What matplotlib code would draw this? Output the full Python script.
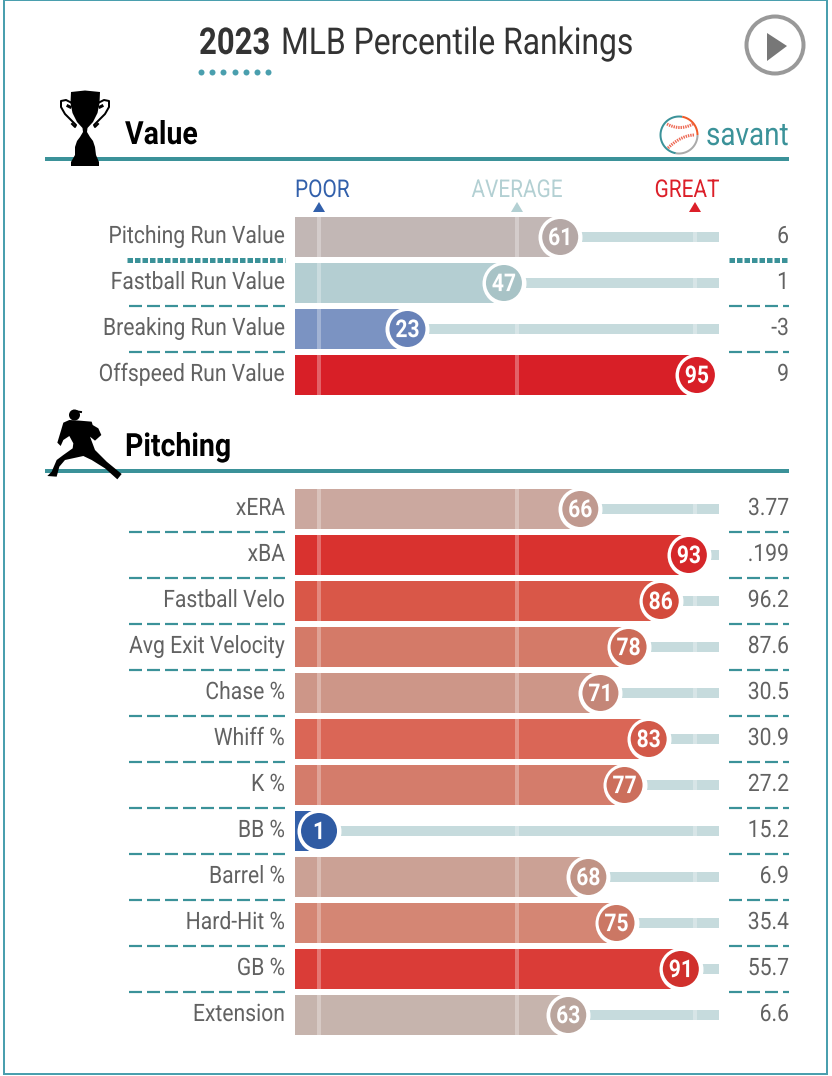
import numpy as np
import matplotlib
matplotlib.use("Agg")
import matplotlib.pyplot as plt
from matplotlib.patches import Rectangle, Circle, Polygon
from matplotlib.patheffects import AbstractPathEffect
from matplotlib.transforms import Affine2D

plt.rcParams['font.family'] = ['Roboto', 'DejaVu Sans']
plt.rcParams['lines.scale_dashes'] = False

value_labels = ["Pitching Run Value", "Fastball Run Value", "Breaking Run Value", "Offspeed Run Value"]
value_pcts = [61, 47, 23, 95]
value_stats = ["6", "1", "-3", "9"]
value_bar_colors = ["#c2b7b5", "#b4ced2", "#7b93c2", "#d81f27"]
value_dot_colors = ["#b5a8a6", "#a8c3c6", "#6882b8", "#d81f27"]

pitch_labels = ["xERA", "xBA", "Fastball Velo", "Avg Exit Velocity", "Chase %", "Whiff %",
                "K %", "BB %", "Barrel %", "Hard-Hit %", "GB %", "Extension"]
pitch_pcts = [66, 93, 86, 78, 71, 83, 77, 1, 68, 75, 91, 63]
pitch_stats = ["3.77", ".199", "96.2", "87.6", "30.5", "30.9", "27.2", "15.2", "6.9", "35.4", "55.7", "6.6"]
pitch_bar_colors = ["#cba89f", "#d9322f", "#d95748", "#d47a68", "#cd9688", "#da6656",
                    "#d47c6b", "#3360a9", "#cba195", "#d48674", "#da3c37", "#c6b4ad"]
pitch_dot_colors = ["#c09a90", "#d5272a", "#d34a3c", "#cc6b58", "#c48678", "#d25949",
                    "#cc6f5c", "#2f5ba3", "#c09385", "#cb7764", "#d0302c", "#baa59d"]

TEAL = "#3b9299"
BORDER = "#4a9fae"
TEXT = "#626262"
TRACK = "#c6dbdd"
W, H = 832, 1076
PX = 72 / 100  # points per pixel at dpi 100


class Squeeze(AbstractPathEffect):
    def __init__(self, k, anchor):
        super().__init__()
        self.k, self.anchor = k, anchor

    def draw_path(self, renderer, gc, tpath, affine, rgbFace=None):
        a = affine + Affine2D().translate(-self.anchor, 0).scale(self.k, 1).translate(self.anchor, 0)
        renderer.draw_path(gc, tpath, a, rgbFace)


fig = plt.figure(figsize=(W / 100, H / 100), dpi=100, facecolor="white")


def axes_px(left, top, right, bottom, **kw):
    return fig.add_axes([left / W, 1 - bottom / H, (right - left) / W, (bottom - top) / H], **kw)


ov = axes_px(0, 0, W, H, zorder=3)
ov.set_xlim(0, W)
ov.set_ylim(H, 0)
ov.axis("off")
ov.patch.set_alpha(0)


def ctext(ax, x, y, s, size_px, k, color=TEXT, ha="left", weight="normal", zorder=6, va="baseline"):
    trans = ax.transData
    anchor = trans.transform((x, y))[0]
    t = ax.text(x, y, s, fontsize=size_px * PX, color=color, ha=ha, va=va, fontweight=weight,
                transform=trans, zorder=zorder, clip_on=False)
    t.set_path_effects([Squeeze(k, anchor)])
    return t


# outer frame
ov.add_patch(Rectangle((3.5, 0), 823, 1073.5, fill=False, ec=BORDER, lw=2 * PX))

# title
ctext(ov, 199, 54, "2023", 37, 0.84, color="#333333", weight="bold")
ctext(ov, 281, 54, "MLB Percentile Rankings", 37, 0.86, color="#333333")
ov.plot(201 + 11.17 * np.arange(7), [72] * 7, "o", ms=6 * PX, color=BORDER, mew=0)

# play button
ov.add_patch(Circle((775, 45), 28.5, fc="white", ec="#999999", lw=4 * PX))
ov.add_patch(Polygon([(767, 33), (787, 46), (767, 61)], fc="#777777", ec="none"))


def header(y, name, x_text, y_text):
    ov.plot([45, 789], [y, y], color=TEAL, lw=4 * PX, solid_capstyle="butt", zorder=2)
    ctext(ov, x_text, y_text, name, 32, 0.89, color="black", weight="bold")


header(159, "Value", 125, 144)
header(471, "Pitching", 125, 456)

# trophy
ov.add_patch(Polygon([(71, 92), (85, 90.5), (100, 92), (99.5, 103), (97.5, 113), (93, 122), (87.5, 128), (87, 132),
                      (90, 137), (93, 141), (95, 147), (96, 155), (99, 162), (99, 166), (71, 166), (71, 162),
                      (75, 155), (75, 147), (77, 141), (80, 137), (83, 132), (82.5, 128), (77, 122), (72.5, 113),
                      (70.5, 103)], fc="black", ec="none", zorder=4))
hx = np.array([72, 66, 61, 61, 65, 71, 76, 75, 72])
hy = np.array([103, 100, 101, 107, 114, 120, 125, 127, 124])
ov.plot(hx, hy, color="black", lw=2 * PX, zorder=4)
ov.plot(170 - hx, hy, color="black", lw=2 * PX, zorder=4)
ov.plot([68, 70], [106, 107], color="black", lw=3 * PX, zorder=4)
ov.plot([102, 100], [106, 107], color="black", lw=3 * PX, zorder=4)

# pitcher
body = np.array([(118, 60), (100, 68), (92, 95), (82, 128), (92, 138), (100, 120), (118, 108), (130, 130), (128, 145),
                 (100, 165), (80, 180), (65, 215), (52, 228), (80, 230), (88, 200), (105, 180), (160, 168), (185, 180),
                 (225, 205), (262, 238), (275, 222), (230, 185), (195, 150), (180, 110), (195, 122), (214, 105),
                 (205, 85), (188, 75), (185, 65), (150, 62)], dtype=float)
ov.add_patch(Polygon(np.c_[body[:, 0] / 3 + 30, body[:, 1] / 3 + 400], fc="black", ec="none", zorder=4))
ov.add_patch(Circle((74.5, 415), 5.5, fc="black", ec="none", zorder=4))
ov.plot([74, 81], [411, 412], color="black", lw=2 * PX, zorder=4)

# savant logo
ctext(ov, 789, 145, "savant", 32, 0.87, color=TEAL, ha="right")
cx, cy, r = 679, 135, 18.5


def arc(a0, a1, col):
    t = np.radians(np.linspace(a0, a1, 40))
    ov.plot(cx + r * np.cos(t), cy - r * np.sin(t), color=col, lw=2 * PX, solid_capstyle="butt")


arc(80, 260, TEAL)
arc(0, 80, "#ef5a28")
arc(-100, 0, "#aaaaaa")
for xs, ys in [((667, 680, 693), (124, 127.5, 124)), ((695, 680, 668), (135, 139, 148))]:
    p = np.polyfit(xs, ys, 2)
    xx = np.linspace(min(xs), max(xs), 30)
    ov.plot(xx, np.polyval(p, xx), color="#ee6a55", lw=3 * PX, ls=(0, (1.0, 0.7)))

# scale captions
ctext(ov, 295, 197, "POOR", 24.5, 0.85, color="#3260ab")
ctext(ov, 517, 197, "AVERAGE", 24.5, 0.85, color="#b3d0d3", ha="center")
ctext(ov, 687, 197, "GREAT", 24.5, 0.85, color="#dc1f29", ha="center")
for x, col in [(319, "#3260ab"), (517, "#b3d0d3"), (695, "#dc1f29")]:
    ov.add_patch(Polygon([(x - 6, 212), (x, 202), (x + 6, 212)], fc=col, ec="none"))

# scale: percentile -> pixel (0 at 315 px, 4.02 px per percentile)
X0, XS = 315, 4.02
REF_LINES = [1, 50.25, 94.5]
XMIN, XMAX = (295 - X0) / XS, (719 - X0) / XS


def dashes(y, pattern, lw):
    for x0, x1 in [(129 if pattern[0] > 8 else 127, 285), (729, 789)]:
        ov.plot([x0, x1], [y, y], color=TEAL, lw=lw * PX, ls=(0, tuple(p * PX for p in pattern)),
                dash_capstyle="butt", zorder=2)


def panel(top, labels, pcts, stats, bar_cols, dot_cols):
    n = len(labels)
    ax = axes_px(295, top, 719, top + 46 * n, zorder=2)
    ax.set_xlim(XMIN, XMAX)
    ax.set_ylim(n - 0.5, -0.5)
    ax.axis("off")
    y = np.arange(n)
    h = 40 / 46
    ax.barh(y, np.array(pcts) - XMIN, left=XMIN, height=h, color=bar_cols, zorder=1)
    ax.barh(y, XMAX - np.array(pcts), left=pcts, height=10 / 46, color=TRACK, zorder=1)
    for rx in REF_LINES:
        ax.vlines(np.full(n, rx), y - h / 2, y + h / 2, color="white", alpha=0.3, lw=4 * PX, zorder=2)
    ax.scatter(pcts, y, s=(44 * PX) ** 2, color="white", linewidths=0, zorder=3, clip_on=False)
    ax.scatter(pcts, y, s=(36 * PX) ** 2, color=dot_cols, linewidths=0, zorder=4, clip_on=False)
    for i in range(n):
        yc = top + 23 + 46 * i
        ctext(ax, pcts[i], i - 0.02, str(pcts[i]), 24.5, 0.86, color="white", ha="center", weight="bold", zorder=5,
              va="center_baseline")
        ctext(ov, 285, yc + 6, labels[i], 24, 0.88, ha="right")
        ctext(ov, 789, yc + 6, stats[i], 24, 0.88, ha="right")
    return ax


panel(214, value_labels, value_pcts, value_stats, value_bar_colors, value_dot_colors)
panel(486, pitch_labels, pitch_pcts, pitch_stats, pitch_bar_colors, pitch_dot_colors)

dashes(260, (5.5, 2), 5)
for i in (1, 2):
    dashes(260 + 46 * i, (13, 5), 2.2)
for i in range(11):
    dashes(532 + 46 * i, (13, 5), 2.2)

fig.savefig("out.png", dpi=100)
